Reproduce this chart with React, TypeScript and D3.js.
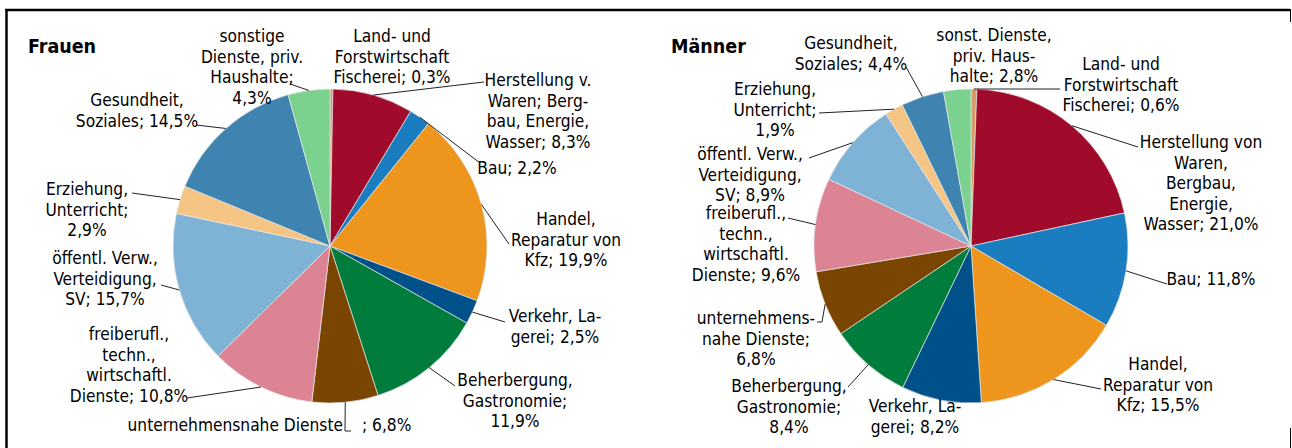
import React from "react";
import * as d3 from "d3";

// ---------- DATA ----------
const sectors = [
  "Land- und Forstwirtschaft, Fischerei",
  "Herstellung von Waren, Bergbau, Energie, Wasser",
  "Bau",
  "Handel, Reparatur von Kfz",
  "Verkehr, Lagerei",
  "Beherbergung, Gastronomie",
  "unternehmensnahe Dienste",
  "freiberufl., techn., wirtschaftl. Dienste",
  "öffentl. Verw., Verteidigung, SV",
  "Erziehung, Unterricht",
  "Gesundheit, Soziales",
  "sonstige Dienste, priv. Haushalte",
];

const frauenValues = [0.3, 8.3, 2.2, 19.9, 2.5, 11.9, 6.8, 10.8, 15.7, 2.9, 14.5, 4.3];
const maennerValues = [0.6, 21.0, 11.8, 15.5, 8.2, 8.4, 6.8, 9.6, 8.9, 1.9, 4.4, 2.8];

const frauenLabels: string[][] = [
  ["Land- und", "Forstwirtschaft", "Fischerei; 0,3%"],
  ["Herstellung v.", "Waren; Berg-", "bau, Energie,", "Wasser; 8,3%"],
  ["Bau; 2,2%"],
  ["Handel,", "Reparatur von", "Kfz; 19,9%"],
  ["Verkehr, La-", "gerei; 2,5%"],
  ["Beherbergung,", "Gastronomie;", "11,9%"],
  ["unternehmensnahe Dienste", "; 6,8%"],
  ["freiberufl.,", "techn.,", "wirtschaftl.", "Dienste; 10,8%"],
  ["öffentl. Verw.,", "Verteidigung,", "SV; 15,7%"],
  ["Erziehung,", "Unterricht;", "2,9%"],
  ["Gesundheit,", "Soziales; 14,5%"],
  ["sonstige", "Dienste, priv.", "Haushalte;", "4,3%"],
];

const maennerLabels: string[][] = [
  ["Land- und", "Forstwirtschaft", "Fischerei; 0,6%"],
  ["Herstellung von", "Waren,", "Bergbau,", "Energie,", "Wasser; 21,0%"],
  ["Bau; 11,8%"],
  ["Handel,", "Reparatur von", "Kfz; 15,5%"],
  ["Verkehr, La-", "gerei; 8,2%"],
  ["Beherbergung,", "Gastronomie;", "8,4%"],
  ["unternehmens-", "nahe Dienste;", "6,8%"],
  ["freiberufl.,", "techn.,", "wirtschaftl.", "Dienste; 9,6%"],
  ["öffentl. Verw.,", "Verteidigung,", "SV; 8,9%"],
  ["Erziehung,", "Unterricht;", "1,9%"],
  ["Gesundheit,", "Soziales; 4,4%"],
  ["sonst. Dienste,", "priv. Haus-", "halte; 2,8%"],
];

// ---------- STYLE / LAYOUT ----------
const colors = [
  "#d39c68", "#a00a2b", "#1a7dc0", "#ee951e", "#00508a", "#007d3c",
  "#7a4500", "#dc8494", "#7fb3d6", "#f5c585", "#3f84b0", "#7bd18e",
];

type Pos = { cx: number; y0: number; special?: boolean };
const frauenPos: Pos[] = [
  { cx: 392, y0: 36 },
  { cx: 538, y0: 80 },
  { cx: 517, y0: 168 },
  { cx: 566, y0: 219 },
  { cx: 555, y0: 316 },
  { cx: 515, y0: 380 },
  { cx: 345, y0: 425, special: true },
  { cx: 129, y0: 334 },
  { cx: 105, y0: 258 },
  { cx: 87, y0: 189 },
  { cx: 137, y0: 100 },
  { cx: 252, y0: 36 },
];
const maennerPos: Pos[] = [
  { cx: 1121, y0: 64 },
  { cx: 1201, y0: 142 },
  { cx: 1211, y0: 279 },
  { cx: 1158, y0: 364 },
  { cx: 915, y0: 406 },
  { cx: 789, y0: 386 },
  { cx: 756, y0: 318 },
  { cx: 746, y0: 213 },
  { cx: 750, y0: 154 },
  { cx: 775, y0: 89 },
  { cx: 851, y0: 43 },
  { cx: 994, y0: 35 },
];

const frauenLeaders: (number[][] | null)[] = [
  null,
  [[484, 82]],
  [[480, 163]],
  [[509, 244]],
  [[505, 322]],
  [[455, 386]],
  [[345, 431], [351, 431]],
  [[187, 398]],
  [[161, 285]],
  [[132, 193]],
  [[196, 125]],
  [[290, 84]],
];
const maennerLeaders: (number[][] | null)[] = [
  [[1060, 89]],
  [[1138, 147]],
  [[1167, 284]],
  [[1101, 389]],
  null,
  [[848, 387]],
  [[822, 322], [817, 322]],
  [[788, 218]],
  [[809, 158]],
  [[819, 113]],
  [[906, 67]],
  null,
];

const FONT = "'DejaVu Sans Condensed', 'DejaVu Sans', sans-serif";
const FS = 17.2;
const LH = 20.5;
const R = 157;

function Pie({
  cx, cy, values, labels, pos, leaders, title, titleX,
}: {
  cx: number; cy: number; values: number[]; labels: string[][];
  pos: Pos[]; leaders: (number[][] | null)[]; title: string; titleX: number;
}) {
  const arcs = d3.pie<number>().sort(null).value((d) => d)(values);
  const arc = d3.arc<d3.PieArcDatum<number>>().innerRadius(0).outerRadius(R);
  const edge = d3.arc<d3.PieArcDatum<number>>().innerRadius(R).outerRadius(R);
  const line = d3.line();
  return (
    <g>
      <text x={titleX} y={53} fontFamily={FONT} fontStretch="condensed" fontWeight="bold" fontSize={19.5} fill="#000">
        {title}
      </text>
      <g transform={`translate(${cx},${cy})`}>
        {arcs.map((a, i) => (
          <path key={i} d={arc(a) || ""} fill={colors[i]} stroke="#e6e6e6" strokeWidth={0.7} />
        ))}
      </g>
      {arcs.map((a, i) => {
        const L = leaders[i];
        if (!L) return null;
        const [ex, ey] = edge.centroid(a);
        const pts: [number, number][] = [[cx + ex, cy + ey], ...L.map((p) => [p[0], p[1]] as [number, number])];
        return <path key={"l" + i} d={line(pts) || ""} fill="none" stroke="#222" strokeWidth={1} />;
      })}
      {labels.map((lines, i) => {
        const p = pos[i];
        if (p.special) {
          return (
            <g key={"t" + i} fontFamily={FONT} fontStretch="condensed" fontSize={FS} fill="#000">
              <text x={p.cx - 2} y={p.y0 + 6} textAnchor="end">{lines[0]}</text>
              <text x={p.cx + 17} y={p.y0 + 6} textAnchor="start">{lines[1]}</text>
            </g>
          );
        }
        return (
          <text key={"t" + i} fontFamily={FONT} fontStretch="condensed" fontSize={FS} fill="#000" textAnchor="middle">
            {lines.map((ln, j) => (
              <tspan key={j} x={p.cx} y={p.y0 + 6 + j * LH}>{ln}</tspan>
            ))}
          </text>
        );
      })}
    </g>
  );
}

export default function App() {
  return (
    <div style={{ position: "absolute", left: 0, top: 0 }}>
      <svg width={1292} height={448} style={{ display: "block", background: "#fff" }}>
        <rect x={0} y={0} width={1292} height={448} fill="#fff" />
        <line x1={5} y1={10} x2={1290} y2={10} stroke="#000" strokeWidth={2.5} />
        <line x1={6.5} y1={9} x2={6.5} y2={448} stroke="#000" strokeWidth={2.5} />
        <line x1={1290.5} y1={9} x2={1290.5} y2={22} stroke="#000" strokeWidth={1} />
        <line x1={1290.5} y1={428} x2={1290.5} y2={448} stroke="#000" strokeWidth={1} />
        <Pie cx={330} cy={246} values={frauenValues} labels={frauenLabels} pos={frauenPos}
          leaders={frauenLeaders} title="Frauen" titleX={28} />
        <Pie cx={971} cy={246} values={maennerValues} labels={maennerLabels} pos={maennerPos}
          leaders={maennerLeaders} title="Männer" titleX={671} />
      </svg>
    </div>
  );
}
